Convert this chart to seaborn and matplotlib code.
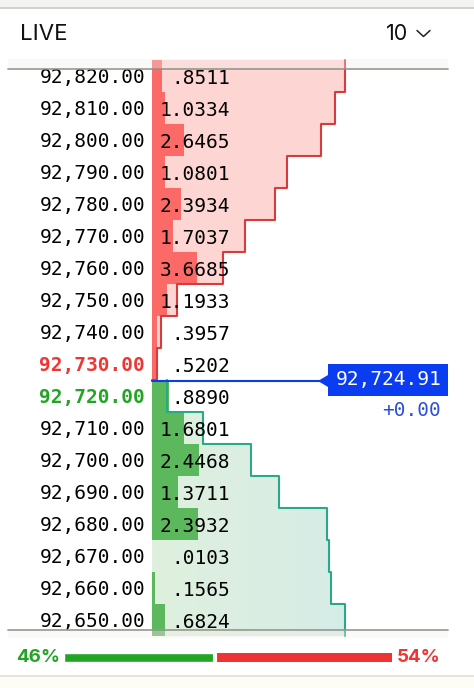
#!/usr/bin/env python3
import numpy as np
import pandas as pd
import matplotlib
matplotlib.use('Agg')
import matplotlib.pyplot as plt
import seaborn as sns
from matplotlib.colors import LinearSegmentedColormap
from matplotlib.patches import Polygon, Rectangle
from matplotlib.transforms import ScaledTranslation

# Order book values
ASK_PRICES = ['92,820.00', '92,810.00', '92,800.00', '92,790.00', '92,780.00',
              '92,770.00', '92,760.00', '92,750.00', '92,740.00', '92,730.00']
ASK_SIZES = [0.8511, 1.0334, 2.6465, 1.0801, 2.3934, 1.7037, 3.6685, 1.1933, 0.3957, 0.5202]
ASK_DEPTH = [1.0, 0.948, 0.876, 0.699, 0.637, 0.482, 0.368, 0.130, 0.047, 0.026]
BID_PRICES = ['92,720.00', '92,710.00', '92,700.00', '92,690.00',
              '92,680.00', '92,670.00', '92,660.00', '92,650.00']
BID_SIZES = [0.8890, 1.6801, 2.4468, 1.3711, 2.3932, 0.0103, 0.1565, 0.6824]
BID_DEPTH = [0.078, 0.264, 0.513, 0.658, 0.907, 0.917, 0.927, 1.0]
ASK_FULL = 15.8
BID_FULL = 10.0
BID_PCT = 46
ASK_PCT = 54
LAST_PRICE = '92,724.91'
CHANGE = '+0.00'

W, H = 474, 688
MONO = 'DejaVu Sans Mono'
SANS = 'Inter'
RED = '#f03535'
GREEN = '#22a524'
BLUE = '#0a3cf2'


def px_axes(fig, zorder):
    """Full figure axes in pixel coordinates, for the panel furniture"""
    ax = fig.add_axes([0, 0, 1, 1], zorder=zorder)
    ax.set_xlim(0, W)
    ax.set_ylim(H, 0)
    ax.axis('off')
    ax.patch.set_alpha(0)
    return ax


def steps(depth, first_row):
    rows = first_row + np.arange(len(depth))
    y = np.column_stack([rows - 0.5, rows + 0.5]).ravel()
    x = np.repeat(depth, 2)
    return x, y


sns.set_style('white')
fig = plt.figure(figsize=(W / 100, H / 100), dpi=100, facecolor='white')

# Panel background
bg = px_axes(fig, 0)
bg.add_patch(Rectangle((0, 0), W, 7, color='#f3f3f1', lw=0))
bg.plot([0, W], [7.5, 7.5], color='#c9c9c9', lw=1.2)
bg.add_patch(Rectangle((0, 676), W, 12, color='#fdfcf5', lw=0))
bg.plot([0, W], [676, 676], color='#dedede', lw=1.2)
bg.text(20, 33.5, 'LIVE', family=SANS, fontsize=16, color='#111111', va='center', ha='left')
bg.text(386, 33.5, '10', family=SANS, fontsize=15.5, color='#111111', va='center', ha='left')
bg.plot([417, 423.5, 430], [30.5, 36.5, 30.5], color='#222222', lw=1.1)

# Book
ax = fig.add_axes([152 / W, 1 - 636 / H, 193 / W, 576 / H], zorder=1)
ax.patch.set_alpha(0)

df = pd.DataFrame({
    'price': ASK_PRICES + BID_PRICES,
    'frac': [s / ASK_FULL for s in ASK_SIZES] + [s / BID_FULL for s in BID_SIZES],
    'side': ['ask'] * len(ASK_PRICES) + ['bid'] * len(BID_PRICES),
})

n_ask = len(ASK_PRICES)
ask_x, ask_y = steps(ASK_DEPTH, 0)
bid_x, bid_y = steps(BID_DEPTH, n_ask)

ax.fill_betweenx(ask_y, 0, ask_x, color='#fdd5d3', lw=0, zorder=1)
bid_fill = ax.fill_betweenx(bid_y, 0, bid_x, color='none', lw=0, zorder=1)
bid_cmap = LinearSegmentedColormap.from_list('bid', ['#dff0dd', '#d6ece7'])
im = ax.imshow(np.linspace(0, 1, 64).reshape(1, -1), extent=(0, 1, len(df) - 0.5, n_ask - 0.5),
               cmap=bid_cmap, aspect='auto', zorder=1)
im.set_clip_path(bid_fill.get_paths()[0], transform=bid_fill.get_transform())

sns.barplot(data=df, x='frac', y='price', hue='side', dodge=False, width=1, saturation=1,
            palette={'ask': '#fb6a66', 'bid': '#5cb85c'}, errorbar=None, legend=False,
            linewidth=0, ax=ax, zorder=2)

ax.plot(np.r_[ask_x, 0], np.r_[ask_y, ask_y[-1]], color='#d93a3c', lw=1.5, zorder=3, clip_on=False)
ax.plot(bid_x, bid_y, color='#2aa887', lw=1.5, zorder=3, clip_on=False)

ax.set_xlim(0, 1)
ax.set_ylim(len(df) - 0.5, -0.5)
ax.set_xlabel('')
ax.set_ylabel('')
ax.set_xticks([])
sns.despine(ax=ax, left=True, bottom=True)
ax.tick_params(axis='y', length=0, pad=5)
# nudge labels down about 2px
nudge = ScaledTranslation(0, -2 / 100, fig.dpi_scale_trans)
for lab in ax.get_yticklabels():
    lab.set_transform(lab.get_transform() + nudge)
    lab.set_family(MONO)
    lab.set_fontsize(14)
    lab.set_color('black')
    lab.set_va('center')
    if lab.get_text() == ASK_PRICES[-1]:
        lab.set_color(RED)
        lab.set_fontweight('bold')
    elif lab.get_text() == BID_PRICES[0]:
        lab.set_color(GREEN)
        lab.set_fontweight('bold')

for i, size in enumerate(ASK_SIZES + BID_SIZES):
    ax.text(0.404, i + 0.09, f'{size:.4f}'.lstrip('0'), family=MONO, fontsize=14,
            color='black', ha='right', va='center', zorder=5)

# Last price marker
ax.plot([0, 0.91], [n_ask - 0.46, n_ask - 0.46], color=BLUE, lw=1.5, zorder=6, clip_on=False)

top = px_axes(fig, 2)
top.add_patch(Rectangle((8, 59), 440, 10, color='#f5f0ea', alpha=0.35, lw=0))
top.add_patch(Rectangle((8, 629), 440, 9, color='#f5f0ea', alpha=0.35, lw=0))
top.plot([8, 448], [69, 69], color='#8f8f8a', lw=1.3, alpha=0.85)
top.plot([8, 448], [629.5, 629.5], color='#8f8f8a', lw=1.3, alpha=0.85)
top.add_patch(Rectangle((328, 364), 120, 32, color=BLUE, lw=0))
top.add_patch(Polygon([[318, 381], [328, 375], [328, 387]], closed=True, color=BLUE, lw=0))
top.text(442, 379, LAST_PRICE, family=MONO, fontsize=14, color='white', ha='right', va='center')
top.text(441, 410, CHANGE, family=MONO, fontsize=14, color='#2a4fd8', ha='right', va='center')

# Buy / sell balance bar
bal = fig.add_axes([64 / W, 1 - 662 / H, 328 / W, 9 / H], zorder=1)
bal.barh([0], [BID_PCT], color=GREEN, height=1)
bal.barh([0], [ASK_PCT], left=[BID_PCT], color='#ee3333', height=1, linewidth=0)
bal.axvline(BID_PCT, color='white', lw=3)
bal.set_xlim(0, 100)
bal.set_ylim(-0.5, 0.5)
bal.axis('off')
top.text(16, 657.5, f'{BID_PCT}%', family=SANS, fontsize=13.5, fontweight='bold', color=GREEN,
         ha='left', va='center')
top.text(441, 657.5, f'{ASK_PCT}%', family=SANS, fontsize=13.5, fontweight='bold', color=RED,
         ha='right', va='center')

fig.savefig('out.png', dpi=100)
